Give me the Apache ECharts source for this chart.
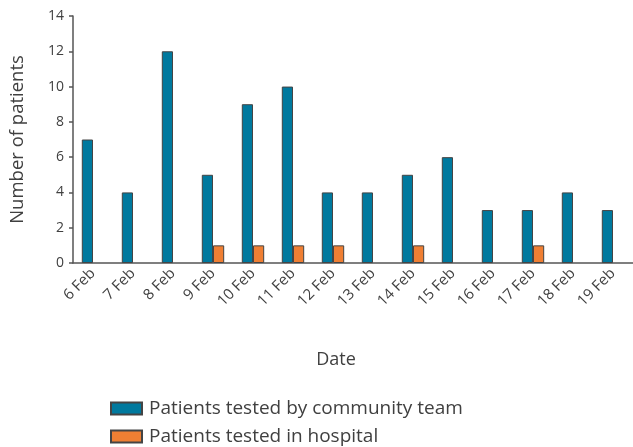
<!DOCTYPE html>
<html><head><meta charset="utf-8">
<script src="https://cdn.jsdelivr.net/npm/echarts@6/dist/echarts.min.js"></script>
<style>html,body{margin:0;padding:0;background:#fff}#c{width:633px;height:447px}</style>
</head><body><div id="c"></div>
<script>
const categories = ['6 Feb','7 Feb','8 Feb','9 Feb','10 Feb','11 Feb','12 Feb','13 Feb','14 Feb','15 Feb','16 Feb','17 Feb','18 Feb','19 Feb'];
const community = [7,4,12,5,9,10,4,4,5,6,3,3,4,3];
const hospital = [0,0,0,1,1,1,1,0,1,0,0,1,0,0];
const seriesNames = ['Patients tested by community team','Patients tested in hospital'];
const yTicks = {min:0, max:14, interval:2};

const font = 'Open Sans';
const txt = '#404040';
const hide0 = v => (v === 0 ? '-' : v);
const legendBase = {
  orient:'horizontal', left:110, padding:0, icon:'rect',
  itemWidth:31, itemHeight:12, itemGap:4,
  textStyle:{fontFamily:font,fontSize:19,color:txt,padding:[0,0,0,2]}
};
const chart = echarts.init(document.getElementById('c'));
chart.setOption({
  animation:false,
  textStyle:{fontFamily:font,color:txt},
  grid:{left:71,right:0,top:16,bottom:184},
  legend:[
    Object.assign({}, legendBase, {top:399, data:[seriesNames[0]]}),
    Object.assign({}, legendBase, {top:427, data:[seriesNames[1]]})
  ],
  xAxis:{
    type:'category', data:categories,
    name:'Date', nameLocation:'middle', nameGap:88,
    nameTextStyle:{fontFamily:font,fontSize:18,color:txt,padding:[0,34,0,0]},
    axisLine:{lineStyle:{color:'#555',width:1.5}},
    axisTick:{alignWithLabel:false,length:5,lineStyle:{color:'#555',width:1.5}},
    axisLabel:{rotate:45,fontSize:15,color:txt,margin:8,interval:0}
  },
  yAxis:{
    type:'value', min:yTicks.min, max:yTicks.max, interval:yTicks.interval,
    name:'Number of patients', nameLocation:'middle', nameGap:46,
    nameTextStyle:{fontFamily:font,fontSize:18.5,color:txt},
    splitLine:{show:false},
    axisLine:{show:true,lineStyle:{color:'#555',width:1.5}},
    axisTick:{show:true,length:4,lineStyle:{color:'#555',width:1.5}},
    axisLabel:{fontSize:14,color:txt,margin:9}
  },
  series:[
    {name:seriesNames[0],type:'bar',data:community.map(hide0),barGap:0,barCategoryGap:'44%',
     itemStyle:{color:'#00799e',borderColor:'#444',borderWidth:1}},
    {name:seriesNames[1],type:'bar',data:hospital.map(hide0),
     itemStyle:{color:'#ef7f33',borderColor:'#444',borderWidth:1}}
  ]
});
</script></body></html>
